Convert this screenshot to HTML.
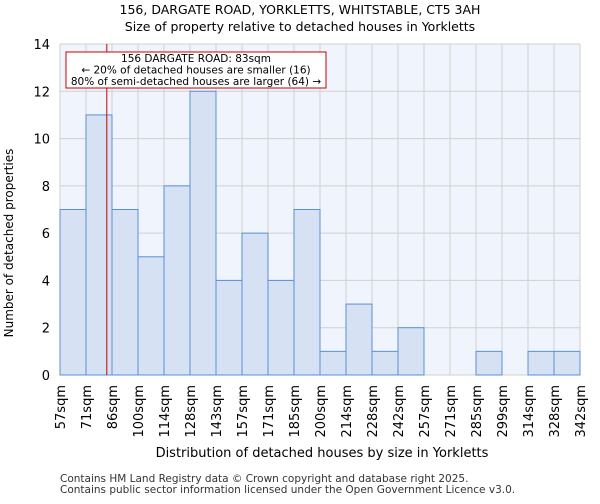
<!DOCTYPE html>
<html><head><meta charset="utf-8"><style>
body{margin:0;background:#fff;font-family:"DejaVu Sans","Liberation Sans",sans-serif}
</style></head><body>
<svg width="600" height="500" xmlns="http://www.w3.org/2000/svg" font-family="DejaVu Sans, Liberation Sans, sans-serif">
<text x="300" y="14" text-anchor="middle" font-size="12.5">156, DARGATE ROAD, YORKLETTS, WHITSTABLE, CT5 3AH</text>
<text x="300" y="31" text-anchor="middle" font-size="12.5">Size of property relative to detached houses in Yorkletts</text>
<rect x="60" y="44" width="520" height="331" fill="#f0f4fc"/>
<g id="grid"></g>
<g id="bars"></g>
<g id="yticks"></g>
<g id="xticks"></g>
<line id="marker" y1="44" y2="375" stroke="#cc0000" stroke-width="1"/>
<rect x="66" y="52" width="260" height="36" fill="#fff" stroke="#cc0000"/>
<text x="196" y="62" text-anchor="middle" font-size="10.5">156 DARGATE ROAD: 83sqm</text>
<text x="196" y="73.5" text-anchor="middle" font-size="10.5">← 20% of detached houses are smaller (16)</text>
<text x="196" y="85" text-anchor="middle" font-size="10.5">80% of semi-detached houses are larger (64) →</text>
<text transform="translate(13,243) rotate(-90)" text-anchor="middle" font-size="12">Number of detached properties</text>
<text x="322" y="457" text-anchor="middle" font-size="13">Distribution of detached houses by size in Yorkletts</text>
<text x="60" y="482" font-size="10.5" fill="#333">Contains HM Land Registry data © Crown copyright and database right 2025.</text>
<text x="60" y="493" font-size="10.5" fill="#333">Contains public sector information licensed under the Open Government Licence v3.0.</text>
</svg>
<script>
const categories=["57sqm","71sqm","86sqm","100sqm","114sqm","128sqm","143sqm","157sqm","171sqm","185sqm","200sqm","214sqm","228sqm","242sqm","257sqm","271sqm","285sqm","299sqm","314sqm","328sqm","342sqm"];
const counts=[7,11,7,5,8,12,4,6,4,7,1,3,1,2,0,0,1,0,1,1];
const yTicks=[0,2,4,6,8,10,12,14];
const edges=[57,71,86,100,114,128,143,157,171,185,200,214,228,242,257,271,285,299,314,328,342];
const propertySize=83;
const NS="http://www.w3.org/2000/svg";
const X0=60,BW=26,Y0=375,YMAX=14,PH=331;
const xb=i=>X0+i*BW;
const y=v=>Y0-v/YMAX*PH;
function xs(v){for(let i=0;i<edges.length-1;i++){if(v<=edges[i+1])return xb(i)+(v-edges[i])/(edges[i+1]-edges[i])*BW;}return xb(edges.length-1);}
function mk(t,a,p){const e=document.createElementNS(NS,t);for(const k in a)e.setAttribute(k,a[k]);p.appendChild(e);return e;}
const g=document.getElementById('grid'),b=document.getElementById('bars'),yt=document.getElementById('yticks'),xt=document.getElementById('xticks');
for(let i=0;i<categories.length;i++){const l=mk('line',{x1:xb(i),x2:xb(i),y1:44,y2:375,stroke:'#d0d0d0'},g);

}
yTicks.forEach(v=>{const l=mk('line',{x1:60,x2:580,y1:y(v),y2:y(v),stroke:'#d0d0d0'},g);


const t=mk('text',{x:50,y:y(v)+5,'text-anchor':'end','font-size':'13'},yt);t.textContent=v;

});
counts.forEach((c,i)=>{if(c<=0)return;const r=mk('rect',{x:xb(i),y:y(c),width:BW,height:Y0-y(c),fill:'#d6e1f4',stroke:'#5b8fd6','stroke-width':1},b);

});
categories.forEach((c,i)=>{const t=mk('text',{transform:`translate(${xb(i)+5},385) rotate(-90)`,'text-anchor':'end','font-size':'13'},xt);t.textContent=c;

});
const m=document.getElementById('marker');m.setAttribute('x1',xs(propertySize));m.setAttribute('x2',xs(propertySize));
</script>
</body></html>
